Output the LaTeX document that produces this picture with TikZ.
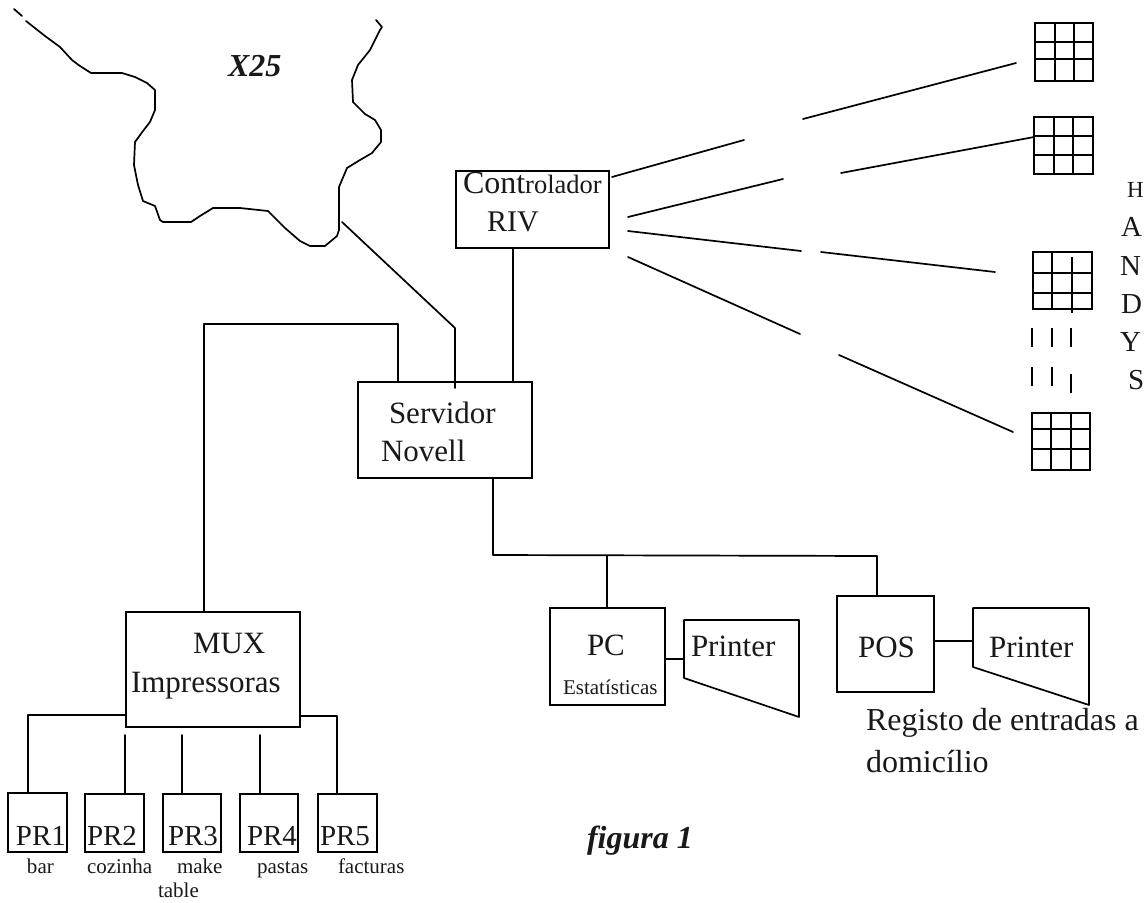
\documentclass[tikz,border=0pt]{standalone}
\usepackage{fontspec}
\setmainfont{Liberation Serif}
\newcommand{\fsz}[1]{\fontsize{#1}{#1}\selectfont}
\tikzset{
  wire/.style={draw=black,line width=1.7pt,line join=round,line cap=round},
  thinw/.style={draw=black,line width=1.5pt,line cap=butt},
  boxn/.style={draw=black,line width=1.8pt,inner sep=0pt,outer sep=0pt,anchor=north west},
  lbl/.style={anchor=base west,inner sep=0pt,outer sep=0pt,text=black!90},
  bigtxt/.style={lbl,font=\fsz{31}},
  midtxt/.style={lbl,font=\fsz{29}},
  smalltxt/.style={lbl,font=\fsz{21}},
  captxt/.style={lbl,font=\fsz{32}\bfseries\itshape},
}
% name, x, y, w, h, v1, v2, h1, h2 (grid lines)
\newcommand{\termbox}[9]{%
  \node[boxn,minimum width=#4pt,minimum height=#5pt] (#1) at (#2,#3) {};
  \draw[thinw] (#6,#3) -- ++(0,#5);
  \draw[thinw] (#7,#3) -- ++(0,#5);
  \draw[thinw] (#2,#8) -- ++(#4,0);
  \draw[thinw] (#2,#9) -- ++(#4,0);
}
\begin{document}
\begin{tikzpicture}[x=1pt,y=-1pt]
\useasboundingbox (0,0) rectangle (1147,902);
\fill[white] (0,0) rectangle (1147,902);

% cloud
\draw[wire] (14,9) -- (22,16);
\draw[wire] (26,21) -- (45,36) -- (60,47) -- (72,60) -- (80,66) -- (91,73) -- (122,73) -- (135,77) -- (147,83) -- (155,90) -- (155,110) -- (150,122) -- (143,131) -- (135,142) -- (134,165) -- (138,185) -- (143,201) -- (155,206) -- (160,220) -- (163,222) -- (191,222) -- (200,216) -- (213,208) -- (240,208) -- (268,211) -- (285,228) -- (300,241) -- (310,246) -- (325,246) -- (337,236) -- (339,230) -- (339,187) -- (347,168) -- (360,160) -- (372,153) -- (381,142) -- (381,130) -- (375,120) -- (365,114) -- (353,102) -- (352,80) -- (358,65) -- (370,50) -- (380,30) -- (382,27) -- (376,20);
\node[captxt] (x25) at (228,76) {X25};

% main boxes
\node[boxn,minimum width=153pt,minimum height=77pt] (ctrl) at (456,171) {};
\node[boxn,minimum width=174pt,minimum height=96pt] (serv) at (358,382) {};
\node[boxn,minimum width=174pt,minimum height=115pt] (mux) at (126,612) {};
\node[boxn,minimum width=115pt,minimum height=97pt] (pc) at (550,608) {};
\node[boxn,minimum width=97pt,minimum height=96pt] (pos) at (837,596) {};

\node[lbl] (tctrl) at (463,193) {\fsz{32}Cont\fsz{26.5}rolador};
\node[bigtxt] (triv) at (487,231) {\fsz{30}RIV};
\node[bigtxt] (tserv) at (389,423) {Servidor};
\node[bigtxt] (tnov) at (381,461) {Novell};
\node[bigtxt] (tmux) at (193,653) {MUX};
\node[bigtxt] (timp) at (131,692) {Impressoras};
\node[bigtxt] (tpc) at (587,655) {PC};
\node[smalltxt] (test) at (563,694) {Estatísticas};
\node[bigtxt] (tpos) at (858,657) {POS};

% printers
\coordinate (p1a) at (684,620); \coordinate (p1b) at (799,620);
\coordinate (p1c) at (799,717); \coordinate (p1d) at (684,678);
\coordinate (p2a) at (973,608); \coordinate (p2b) at (1089,608);
\coordinate (p2c) at (1089,705); \coordinate (p2d) at (973,667);
\draw[wire] (p1a) -- (p1b) -- (p1c) -- (p1d) -- cycle;
\draw[wire] (p2a) -- (p2b) -- (p2c) -- (p2d) -- cycle;
\node[bigtxt] (tp1) at (691,656) {Printer};
\node[bigtxt] (tp2) at (989,657) {Printer};

% printer links
\coordinate (l1) at (0,659); \coordinate (l2) at (0,641);
\draw[wire] (pc.east |- l1) -- (p1a |- l1);
\draw[wire] (pos.east |- l2) -- (p2a |- l2);

% server links
\coordinate (kink) at (455,328);
\coordinate (kinkb) at (455,388);
\coordinate (cloudend) at (342,222);
\draw[wire] (cloudend) -- (kink) -- (kinkb);
\coordinate (rivx) at (513,0);
\draw[wire] (ctrl.south -| rivx) -- (serv.north -| rivx);
\coordinate (mt) at (204,324); \coordinate (mr) at (398,324);
\draw[wire] (mux.north -| mt) -- (mt) -- (mr) -- (serv.north -| mr);
\coordinate (d0) at (493,555); \coordinate (d1) at (877,556);
\coordinate (dp) at (607,556);
\draw[wire] (serv.south -| d0) -- (d0) -- (d1) -- (pos.north -| d1);
\draw[wire] (dp) -- (pc.north -| dp);

% printers PR
\node[boxn,minimum width=59pt,minimum height=59pt] (pr1) at (8,793) {};
\node[boxn,minimum width=59pt,minimum height=58pt] (pr2) at (85,794) {};
\node[boxn,minimum width=58pt,minimum height=58pt] (pr3) at (163,794) {};
\node[boxn,minimum width=58pt,minimum height=58pt] (pr4) at (240,794) {};
\node[boxn,minimum width=59pt,minimum height=58pt] (pr5) at (318,794) {};
\node[midtxt] (t1) at (16,845) {PR1};
\node[midtxt] (t2) at (87,845) {PR2};
\node[midtxt] (t3) at (168,845) {PR3};
\node[midtxt] (t4) at (247,845) {PR4};
\node[midtxt] (t5) at (320,845) {PR5};
\node[smalltxt] (b1) at (27,873) {bar};
\node[smalltxt] (b2) at (87,873) {cozinha};
\node[smalltxt] (b3) at (177,873) {make};
\node[smalltxt] (b3b) at (158,897) {table};
\node[smalltxt] (b4) at (257,873) {pastas};
\node[smalltxt] (b5) at (338,873) {facturas};

\coordinate (ml) at (28,715); \coordinate (mr2) at (337,716);
\draw[wire] (mux.west |- ml) -- (ml) -- (pr1.north -| ml);
\draw[wire] (mux.east |- mr2) -- (mr2) -- (pr5.north -| mr2);
\coordinate (s2) at (125,735); \coordinate (s3) at (182,735); \coordinate (s4) at (260,735);
\draw[wire] (s2) -- (pr2.north -| s2);
\draw[wire] (s3) -- (pr3.north -| s3);
\draw[wire] (s4) -- (pr4.north -| s4);

% terminals
\termbox{g1}{1035}{23}{58}{58}{1055}{1074}{42}{59}
\termbox{g2}{1034}{117}{59}{57}{1054}{1073}{136}{155}
\node[boxn,minimum width=59pt,minimum height=57pt] (g3) at (1033,252) {};
\draw[thinw] (1052,252) -- (1052,309);
\draw[thinw] (1072,257) -- (1072,313);
\draw[thinw] (1033,273) -- (1092,273);
\draw[thinw] (1033,293) -- (1092,293);
\termbox{g4}{1032}{413}{58}{57}{1051}{1071}{429}{449}

% dashes between terminals
\draw[thinw] (1032,328) -- (1032,347);
\draw[thinw] (1052,328) -- (1052,347);
\draw[thinw] (1071,328) -- (1071,347);
\draw[thinw] (1032,367) -- (1032,386);
\draw[thinw] (1052,367) -- (1052,386);
\draw[thinw] (1071,374) -- (1071,393);

% broken radio links
\coordinate (a1) at (612,177); \coordinate (a2) at (744,140);
\coordinate (a3) at (803,119); \coordinate (a4) at (1016,63);
\coordinate (b1c) at (628,217); \coordinate (b2c) at (783,179);
\coordinate (b3c) at (841,173);
\coordinate (c1) at (628,231); \coordinate (c2) at (801,251);
\coordinate (c3) at (821,252); \coordinate (c4) at (995,272);
\coordinate (d1c) at (628,257); \coordinate (d2c) at (800,334);
\coordinate (d3c) at (839,355); \coordinate (d4c) at (1013,432);
\coordinate (g2y) at (0,137);
\draw[wire] (a1) -- (a2);
\draw[wire] (a3) -- (a4);
\draw[wire] (b1c) -- (b2c);
\draw[wire] (b3c) -- (g2.west |- g2y);
\draw[wire] (c1) -- (c2);
\draw[wire] (c3) -- (c4);
\draw[wire] (d1c) -- (d2c);
\draw[wire] (d3c) -- (d4c);

% HANDYS
\node[lbl,font=\fsz{23}] (lh) at (1127,197) {H};
\node[midtxt] (la) at (1121,236) {A};
\node[midtxt] (ln) at (1120,275) {N};
\node[midtxt] (ld) at (1121,313) {D};
\node[midtxt] (ly) at (1120,351) {Y};
\node[midtxt] (ls) at (1128,389) {S};

% free text
\node[lbl,font=\fsz{32}] (treg) at (866,730) {Registo de entradas a};
\node[lbl,font=\fsz{32}] (tdom) at (866,772) {domicílio};
\node[captxt] (tfig) at (587,848) {figura 1};
\end{tikzpicture}
\end{document}
